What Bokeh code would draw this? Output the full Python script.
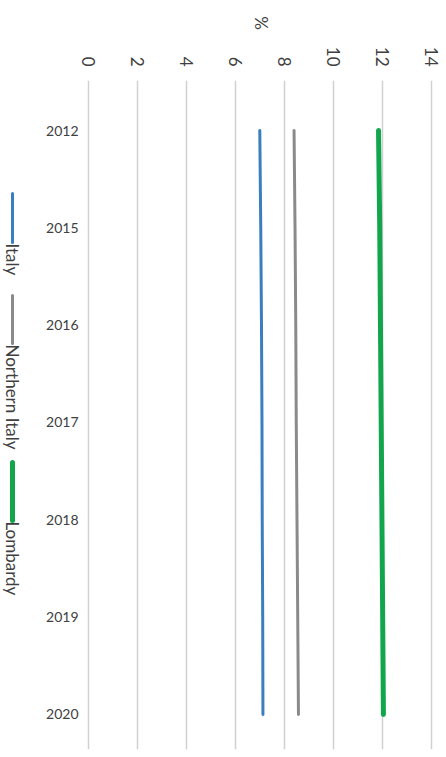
import math
from bokeh.plotting import figure
from bokeh.layouts import row
from bokeh.models import Range1d, FixedTicker, ColumnDataSource
from bokeh.core.properties import value
from bokeh.embed import file_html
from bokeh.resources import INLINE

# ---- data ----
years = ["2012", "2015", "2016", "2017", "2018", "2019", "2020"]
italy = [7.0, 7.04, 7.07, 7.09, 7.10, 7.12, 7.13]
northern_italy = [8.40, 8.44, 8.47, 8.49, 8.52, 8.55, 8.58]
lombardy = [11.85, 11.90, 11.93, 11.96, 11.99, 12.02, 12.05]
series_names = ["Italy", "Northern Italy", "Lombardy"]
series_values = [italy, northern_italy, lombardy]
x_ticks = [0, 2, 4, 6, 8, 10, 12, 14]
axis_title = "%"

# ---- styles ----
colors = ["#3a7ebf", "#8a8a8a", "#12a64c"]
widths = [3, 3, 5]
FONT = "Lato"
TEXT_COLOR = "#404040"

idx = list(range(len(years)))
y_rng = Range1d(6.36, -0.514)
TOP = 80
FH = 669
BOTTOM = 8

p = figure(
    output_backend="svg", toolbar_location=None,
    frame_width=355, frame_height=FH,
    min_border_left=45, min_border_top=TOP, min_border_right=8, min_border_bottom=BOTTOM,
    x_range=Range1d(-0.2, 14.3), y_range=y_rng,
    x_axis_location="above",
)
p.outline_line_color = None
p.background_fill_color = "white"
p.border_fill_color = "white"

for name, vals, c, w in zip(series_names, series_values, colors, widths):
    src = ColumnDataSource(dict(x=vals, y=idx))
    p.line("x", "y", source=src, line_color=c, line_width=w, line_cap="round")

# x axis (values, on top, rotated labels)
xa = p.xaxis[0]
xa.ticker = FixedTicker(ticks=x_ticks)
xa.major_label_orientation = -math.pi / 2
xa.axis_line_color = None
xa.major_tick_line_color = None
xa.minor_tick_line_color = None
xa.major_tick_out = 0
xa.major_tick_in = 0
xa.minor_tick_out = 0
xa.major_label_text_font = FONT
xa.major_label_text_font_size = "17px"
xa.major_label_text_color = TEXT_COLOR
xa.major_label_standoff = 14
xa.axis_label = axis_title
xa.axis_label_text_font = FONT
xa.axis_label_text_font_size = "17px"
xa.axis_label_text_font_style = "normal"
xa.axis_label_text_color = TEXT_COLOR
xa.axis_label_standoff = 14
try:
    xa.axis_label_orientation = -math.pi / 2
except Exception:
    pass

# y axis (years)
ya = p.yaxis[0]
ya.ticker = FixedTicker(ticks=idx)
ya.major_label_overrides = {i: y for i, y in zip(idx, years)}
ya.axis_line_color = None
ya.major_tick_line_color = None
ya.minor_tick_line_color = None
ya.major_tick_out = 0
ya.major_tick_in = 0
ya.minor_tick_out = 0
ya.major_label_text_font = FONT
ya.major_label_text_font_size = "14px"
ya.major_label_text_color = TEXT_COLOR
ya.major_label_standoff = 5

p.ygrid.grid_line_color = None
p.xgrid.ticker = FixedTicker(ticks=x_ticks)
p.xgrid.grid_line_color = "#d0d0d0"
p.xgrid.grid_line_width = 1.5

# ---- legend (vertical, rotated text) in a narrow side figure sharing y ----
lg = figure(
    output_backend="svg", toolbar_location=None,
    frame_width=38, frame_height=FH,
    min_border_left=0, min_border_right=0, min_border_top=TOP, min_border_bottom=BOTTOM,
    x_range=Range1d(0, 38), y_range=y_rng,
)
lg.axis.visible = False
lg.grid.visible = False
lg.outline_line_color = None
lg.border_fill_color = "white"

# legend layout in page pixels -> converted to the shared y scale
PX0, PXSTEP = 130.0, 97.33
def to_idx(px):
    return (px - PX0) / PXSTEP

leg_px = [193, 295, 462]
leg_len = [49, 48, 58]
LX = 12
for name, c, w, s, L in zip(series_names, colors, widths, leg_px, leg_len):
    lg.segment(x0=[LX], y0=[to_idx(s)], x1=[LX], y1=[to_idx(s + L)],
               line_color=c, line_width=w, line_cap="round")
    lg.text(x=[LX], y=[to_idx(s + L + 1)], text=[name], angle=-math.pi / 2,
            text_align="left", text_baseline="middle",
            text_font=value(FONT), text_font_size="17px", text_color=TEXT_COLOR)

layout = row(lg, p)
open("out.html", "w").write(file_html(layout, INLINE))
